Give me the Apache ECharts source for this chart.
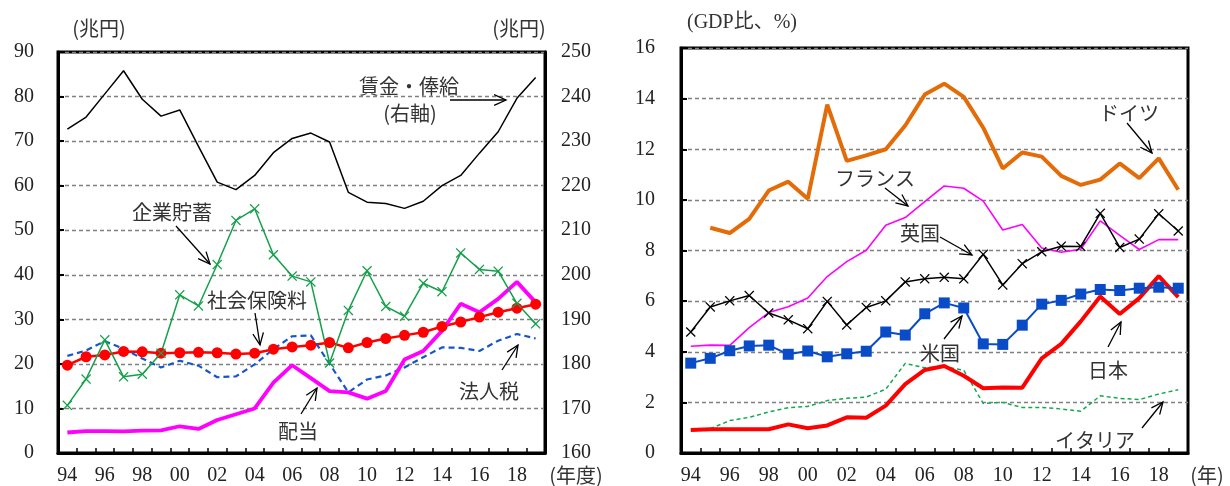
<!DOCTYPE html>
<html><head><meta charset="utf-8">
<script src="https://cdn.jsdelivr.net/npm/echarts@6/dist/echarts.min.js"></script>
<style>html,body{margin:0;padding:0;background:#fff;overflow:hidden}#c{width:1230px;height:486px}</style>
</head><body><div id="c"></div>
<script>
// ---- Left panel data (fiscal years 1994-2019, 兆円) ----
const yearsL = ['94','95','96','97','98','99','00','01','02','03','04','05','06','07','08','09','10','11','12','13','14','15','16','17','18','19'];
const wages = [232.7,235.4,240.6,245.8,239.4,235.6,237.0,228.8,220.8,219.1,222.3,227.4,230.6,231.8,229.8,218.5,216.3,216.0,214.9,216.5,220.0,222.3,227.3,232.1,239.6,244.3];
const savings = [10.7,16.6,25.4,17.1,17.7,22.4,35.5,33.0,42.3,52.2,54.8,44.5,39.7,38.4,20.2,32.0,40.9,32.9,30.7,38.1,36.2,44.9,41.2,40.8,33.6,29.0];
const social = [19.7,21.6,22.0,22.8,22.7,22.4,22.5,22.6,22.5,22.2,22.4,23.3,23.8,24.2,24.8,23.6,24.8,25.7,26.4,27.1,28.4,29.4,30.5,31.6,32.5,33.4];
const corpTax = [21.8,23.0,25.1,23.4,21.2,19.2,20.7,19.6,17.0,17.2,19.9,23.3,26.2,26.4,20.0,13.6,16.5,17.4,19.2,21.5,23.7,23.6,22.9,25.2,26.7,25.7];
const dividends = [4.6,4.9,4.9,4.85,5.0,5.1,6.0,5.4,7.4,8.7,10.0,15.8,19.7,16.8,13.9,13.6,12.2,13.9,21.0,22.9,27.4,33.5,31.6,34.6,38.4,33.8];

// ---- Right panel data (calendar years 1994-2019, GDP比 %) ----
const yearsR = ['94','95','96','97','98','99','00','01','02','03','04','05','06','07','08','09','10','11','12','13','14','15','16','17','18','19'];
const germany = [null,8.90,8.69,9.25,10.37,10.72,10.04,13.76,11.54,11.76,12.0,12.94,14.16,14.59,14.07,12.85,11.24,11.87,11.71,10.95,10.59,10.80,11.44,10.86,11.64,10.40];
const france = [4.22,4.26,4.25,4.95,5.55,5.78,6.12,6.97,7.56,8.01,9.0,9.3,9.93,10.55,10.46,9.95,8.81,9.03,8.1,7.93,8.05,9.17,8.6,8.04,8.43,8.43];
const uk = [4.78,5.77,6.01,6.22,5.53,5.26,4.91,5.99,5.06,5.75,6.01,6.76,6.88,6.94,6.88,7.85,6.64,7.48,7.95,8.17,8.16,9.47,8.12,8.45,9.45,8.77];
const us = [3.55,3.74,4.04,4.23,4.26,3.9,4.03,3.8,3.92,4.02,4.78,4.66,5.5,5.93,5.73,4.31,4.29,5.05,5.88,6.03,6.28,6.46,6.42,6.51,6.55,6.51];
const japan = [0.91,0.94,0.94,0.94,0.94,1.13,0.98,1.09,1.41,1.39,1.87,2.72,3.28,3.44,3.05,2.56,2.59,2.58,3.74,4.31,5.2,6.18,5.49,6.12,6.99,6.16];
const italy = [null,0.96,1.28,1.41,1.62,1.79,1.84,2.07,2.16,2.21,2.52,3.54,3.37,3.41,3.27,1.96,2.0,1.8,1.8,1.74,1.65,2.26,2.16,2.11,2.33,2.5];

const numFont = '"Liberation Serif","DejaVu Serif","Noto Sans CJK JP",serif';
const jpFont = '"Noto Sans CJK JP","Noto Sans",sans-serif';
const crossPath = 'path://M9,0L50,41L91,0L100,9L59,50L100,91L91,100L50,59L9,100L0,91L41,50L0,9Z';

function xAx(gi, data) {
  return {
    type: 'category', gridIndex: gi, data: data,
    axisLine: {show: true, lineStyle: {color: '#000', width: 3}},
    axisTick: {show: true, inside: true, length: 5, interval: 0, lineStyle: {color: '#000', width: 1.5}},
    axisLabel: {interval: 1, margin: 13, fontFamily: numFont, fontSize: 20, color: '#222'},
    splitLine: {show: false}
  };
}
function yAx(gi, pos, min, max, interval, grid, margin) {
  return {
    type: 'value', gridIndex: gi, position: pos, min: min, max: max, interval: interval,
    axisLine: {show: true, lineStyle: {color: '#000', width: 3}},
    axisTick: {show: pos === 'left', inside: true, length: 6, lineStyle: {color: '#000', width: 2}},
    axisLabel: {margin: margin, fontFamily: numFont, fontSize: 20, color: '#222'},
    splitLine: {show: grid, lineStyle: {color: '#808080', type: [4, 3], width: 1.3}}
  };
}
function txt(t, x, y, font, align) {
  return {type: 'text', z: 100, style: {text: t, x: x, y: y, align: align || 'center', verticalAlign: 'middle',
    font: (font || ('20px ' + jpFont)), fill: '#333'}};
}
function arrow(x1, y1, x2, y2) {
  const a = Math.atan2(y2 - y1, x2 - x1), L = 13, w = 0.42;
  const p1 = [x2 - L * Math.cos(a - w), y2 - L * Math.sin(a - w)];
  const p2 = [x2 - L * Math.cos(a + w), y2 - L * Math.sin(a + w)];
  return [
    {type: 'line', z: 100, shape: {x1: x1, y1: y1, x2: x2, y2: y2}, style: {stroke: '#000', lineWidth: 1.3}},
    {type: 'polyline', z: 100, shape: {points: [p1, [x2, y2], p2]}, style: {stroke: '#000', lineWidth: 1.3, fill: null}}
  ];
}

const chart = echarts.init(document.getElementById('c'), null, {renderer: 'canvas', width: 1230, height: 486});
const graphics = [].concat(
  txt('(兆円)', 99, 28), txt('(兆円)', 519, 28), txt('(GDP比、%)', 742, 23, '20px ' + numFont),
  txt('(年度)', 576, 475), txt('(年)', 1207, 475),
  txt('賃金・俸給', 409, 86), txt('(右軸)', 410, 113), arrow(450, 100, 506, 100),
  txt('企業貯蓄', 172, 212), arrow(176, 226, 210, 264),
  txt('社会保険料', 257, 300), arrow(255, 313, 260, 345),
  txt('配当', 298, 431), arrow(301, 414, 317, 388),
  txt('法人税', 489, 391), arrow(502, 370, 518, 345),
  txt('ドイツ', 1129, 113), arrow(1127, 123, 1152, 153),
  txt('フランス', 875, 178), arrow(885, 188, 908, 206),
  txt('英国', 920, 233), arrow(940, 237, 972, 255),
  txt('米国', 940, 353), arrow(944, 339, 962, 316),
  txt('日本', 1108, 370), arrow(1108, 347, 1121, 322),
  txt('イタリア', 1095, 440), arrow(1142, 428, 1163, 402)
);

chart.setOption({
  animation: false,
  backgroundColor: '#fff',
  grid: [
    {left: 58, top: 52, width: 487, height: 402, show: true, borderColor: '#000', borderWidth: 3},
    {left: 681, top: 48, width: 507, height: 408, show: true, borderColor: '#000', borderWidth: 3}
  ],
  xAxis: [xAx(0, yearsL), xAx(1, yearsR)],
  yAxis: [
    yAx(0, 'left', 0, 90, 10, true, 24),
    yAx(0, 'right', 160, 250, 10, false, 16),
    yAx(1, 'left', 0, 16, 2, true, 26)
  ],
  series: [
    {name: '賃金・俸給', type: 'line', xAxisIndex: 0, yAxisIndex: 1, data: wages, symbol: 'none',
      lineStyle: {color: '#000', width: 1.5}},
    {name: '社会保険料', type: 'line', xAxisIndex: 0, yAxisIndex: 0, data: social, symbol: 'circle', symbolSize: 11,
      itemStyle: {color: '#ff0000'}, lineStyle: {color: '#ff0000', width: 2.5}},
    {name: '法人税', type: 'line', xAxisIndex: 0, yAxisIndex: 0, data: corpTax, symbol: 'none',
      lineStyle: {color: '#1555cc', width: 2.2, type: [6, 4]}},
    {name: '配当', type: 'line', xAxisIndex: 0, yAxisIndex: 0, data: dividends, symbol: 'none',
      lineStyle: {color: '#ff00ff', width: 3.8}},
    {name: '企業貯蓄', type: 'line', xAxisIndex: 0, yAxisIndex: 0, data: savings, symbol: crossPath, symbolSize: 10,
      itemStyle: {color: '#14a04a'}, lineStyle: {color: '#14a04a', width: 1.5}},

    {name: 'ドイツ', type: 'line', xAxisIndex: 1, yAxisIndex: 2, data: germany, symbol: 'none',
      lineStyle: {color: '#e36c09', width: 4}},
    {name: 'フランス', type: 'line', xAxisIndex: 1, yAxisIndex: 2, data: france, symbol: 'none',
      lineStyle: {color: '#ff00ff', width: 1.6}},
    {name: '英国', type: 'line', xAxisIndex: 1, yAxisIndex: 2, data: uk, symbol: crossPath, symbolSize: 10,
      itemStyle: {color: '#000'}, lineStyle: {color: '#000', width: 1.5}},
    {name: 'イタリア', type: 'line', xAxisIndex: 1, yAxisIndex: 2, data: italy, symbol: 'none',
      lineStyle: {color: '#14a850', width: 1.5, type: [4, 3]}},
    {name: '日本', type: 'line', xAxisIndex: 1, yAxisIndex: 2, data: japan, symbol: 'none',
      lineStyle: {color: '#ff0000', width: 4}},
    {name: '米国', type: 'line', xAxisIndex: 1, yAxisIndex: 2, data: us, symbol: 'rect', symbolSize: 11,
      itemStyle: {color: '#0a4cc8'}, lineStyle: {color: '#0a4cc8', width: 2}}
  ],
  graphic: graphics
});
</script>
</body></html>
